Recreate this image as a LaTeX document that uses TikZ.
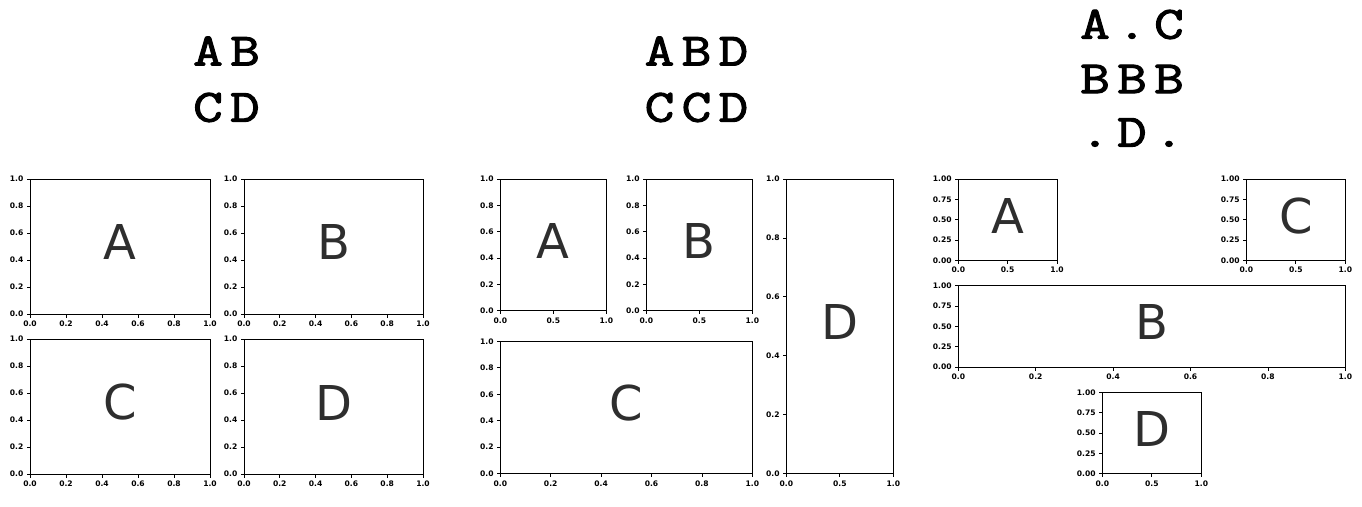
\documentclass[tikz,border=0pt]{standalone}
\usepackage{fontspec}
\setmainfont{DejaVu Sans}
\newfontfamily\titlefont{Latin Modern Mono}[FakeBold=2.5,FakeStretch=1.25]
\usetikzlibrary{calc}
\tikzset{
 axframe/.style={draw=black, line width=0.8pt, inner sep=0pt, outer sep=0pt, anchor=north west},
 tickmark/.style={line width=0.8pt},
 ticklab/.style={inner sep=0pt, font=\bfseries\fontsize{7.6}{8}\selectfont},
 biglab/.style={inner sep=0pt, text=black!82, font=\fontsize{48}{50}\selectfont},
 titlelab/.style={inner sep=0pt, font=\titlefont\fontsize{46}{46}\selectfont},
}
\def\tsix{0/0.0,0.2/0.2,0.4/0.4,0.6/0.6,0.8/0.8,1/1.0}
\def\tthree{0/0.0,0.5/0.5,1/1.0}
\def\tfive{0/0.00,0.25/0.25,0.5/0.50,0.75/0.75,1/1.00}
\newcommand\mplaxes[8]{%
 \node[axframe, minimum width={(#4-#2)*1pt}, minimum height={(#5-#3)*1pt}] (#1) at (#2,#3) {};
 \node[biglab] (#1lab) at ($(#1.center)+(0,-4)$) {#6};
 \foreach \f/\l [count=\i] in #7 {
   \coordinate (#1x\i) at ($(#1.south west)!\f!(#1.south east)$);
   \draw[tickmark] (#1x\i) -- ++(0,3.5);
   \node[ticklab, anchor=north] (#1xl\i) at ($(#1x\i)+(0,6.5)$) {\l};
 }
 \foreach \f/\l [count=\i] in #8 {
   \coordinate (#1y\i) at ($(#1.south west)!\f!(#1.north west)$);
   \draw[tickmark] (#1y\i) -- ++(-3.5,0);
   \node[ticklab, anchor=east] (#1yl\i) at ($(#1y\i)+(-6.5,0)$) {\l};
 }
}
\newcommand\tl[1]{\makebox[37pt]{#1}}
\begin{document}
\begin{tikzpicture}[x=1pt,y=-1pt]
\fill[white] (0,0) rectangle (1362,506);
\useasboundingbox (0,0) rectangle (1362,506);
% panel 1
\node[titlelab] (t1a) at (226.5,51) {\tl{A}\tl{B}};
\node[titlelab] (t1b) at (226.5,107.5) {\tl{C}\tl{D}};
\mplaxes{pA}{30}{179}{210}{314}{A}{\tsix}{\tsix}
\mplaxes{pB}{244}{179}{423}{314}{B}{\tsix}{\tsix}
\mplaxes{pC}{30}{339}{210}{474}{C}{\tsix}{\tsix}
\mplaxes{pD}{244}{339}{423}{474}{D}{\tsix}{\tsix}
% panel 2
\node[titlelab] (t2a) at (696.5,51) {\tl{A}\tl{B}\tl{D}};
\node[titlelab] (t2b) at (696.5,107.5) {\tl{C}\tl{C}\tl{D}};
\mplaxes{qA}{500.3}{179}{606.3}{310.7}{A}{\tthree}{\tsix}
\mplaxes{qB}{646.3}{179}{752.3}{310.7}{B}{\tthree}{\tsix}
\mplaxes{qC}{500.3}{341.3}{752.3}{473.7}{C}{\tsix}{\tsix}
\mplaxes{qD}{786.3}{179}{893.3}{473.7}{D}{\tthree}{\tsix}
% panel 3
\node[titlelab] (t3a) at (1132,24.5) {\tl{A}\tl{.}\tl{C}};
\node[titlelab] (t3b) at (1132,79) {\tl{B}\tl{B}\tl{B}};
\node[titlelab, anchor=base] (t3c) at (1132,146.5) {\tl{.}\tl{D}\tl{.}};
\mplaxes{rA}{958.3}{179}{1057}{260.3}{A}{\tthree}{\tfive}
\mplaxes{rC}{1246.3}{179}{1345.3}{260.3}{C}{\tthree}{\tfive}
\mplaxes{rB}{958.3}{285.7}{1345.3}{367}{B}{\tsix}{\tfive}
\mplaxes{rD}{1102.3}{392.3}{1201.3}{473.7}{D}{\tthree}{\tfive}
\end{tikzpicture}
\end{document}
